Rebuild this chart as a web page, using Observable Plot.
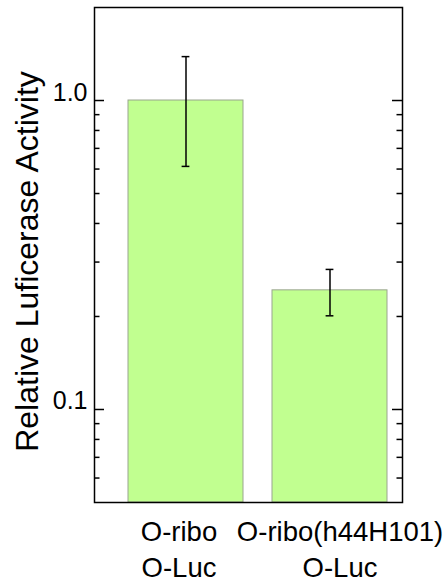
<!DOCTYPE html>
<html><head><meta charset="utf-8">
<script src="https://cdn.jsdelivr.net/npm/d3@7"></script>
<script src="https://cdn.jsdelivr.net/npm/@observablehq/plot@0.6"></script>
<style>body{margin:0;background:#fff}</style>
</head><body><div id="chart"></div>
<script>
const categories = ["O-ribo\nO-Luc", "O-ribo(h44H101)\nO-Luc"];
const values = [1.0, 0.243];
const errLow = [0.612, 0.201];
const errHigh = [1.387, 0.284];
const majorTicks = [0.1, 1];
const majorTickLabels = ["0.1", "1.0"];
const minorTicks = [0.06, 0.07, 0.08, 0.09, 0.2, 0.3, 0.4, 0.5, 0.6, 0.7, 0.8, 0.9];
const yLabel = "Relative Luficerase Activity";
const yDomain = [0.05, 2];

const data = categories.map((c, i) => ({cat: c, value: values[i], lo: errLow[i], hi: errHigh[i]}));
const W = 446, H = 582, mL = 94, mR = 44, mT = 7, mB = 80;
const fw = W - mL - mR;
const font = "'Liberation Sans', Arial, Helvetica, sans-serif";

const plot = Plot.plot({
  width: W, height: H,
  marginLeft: mL, marginRight: mR, marginTop: mT, marginBottom: mB,
  style: {fontFamily: font, background: "#fff", color: "#000"},
  x: {domain: categories, range: [114, 402], paddingInner: 0.2, paddingOuter: 0.1, axis: null},
  y: {type: "log", domain: yDomain, axis: null},
  marks: [
    Plot.barY(data, {x: "cat", y1: () => yDomain[0], y2: "value", fill: "#c1ff90", stroke: "#9aa58f", strokeWidth: 1}),
    Plot.ruleX(data, {x: "cat", y1: "lo", y2: "hi", stroke: "#000", strokeWidth: 1.5}),
    Plot.tickY(data, {x: "cat", y: "lo", insetLeft: 53.6, insetRight: 53.6, stroke: "#000", strokeWidth: 1.5}),
    Plot.tickY(data, {x: "cat", y: "hi", insetLeft: 53.6, insetRight: 53.6, stroke: "#000", strokeWidth: 1.5}),
    Plot.ruleY(majorTicks, {y: d => d, insetRight: fw - 10, stroke: "#000", strokeWidth: 1.5}),
    Plot.ruleY(majorTicks, {y: d => d, insetLeft: fw - 10, stroke: "#000", strokeWidth: 1.5}),
    Plot.ruleY(minorTicks, {y: d => d, insetRight: fw - 5.5, stroke: "#000", strokeWidth: 1.5}),
    Plot.ruleY(minorTicks, {y: d => d, insetLeft: fw - 5.5, stroke: "#000", strokeWidth: 1.5}),
    Plot.axisY({ticks: majorTicks, tickFormat: d => majorTickLabels[majorTicks.indexOf(d)], tickSize: 0, tickPadding: 7, fontSize: 25, lineAnchor: "bottom", label: null}),
    Plot.text([yLabel], {frameAnchor: "left", text: d => d, rotate: -90, dx: -56.5, dy: 6.5, textAnchor: "middle", lineAnchor: "bottom", fontSize: 32, fill: "#000"}),
    Plot.text(data.filter((d, i) => i === 0), {x: "cat", text: "cat", frameAnchor: "bottom", lineAnchor: "top", dy: 13, dx: -7, fontSize: 27.5, lineHeight: 1.31, fill: "#000"}),
    Plot.text(data.filter((d, i) => i === 1), {x: "cat", text: "cat", frameAnchor: "bottom", lineAnchor: "top", dy: 13, dx: 10, fontSize: 27.5, lineHeight: 1.31, fill: "#000"}),
    Plot.frame({stroke: "#000", strokeWidth: 1.5})
  ]
});
document.getElementById("chart").appendChild(plot);
</script>
</body></html>
